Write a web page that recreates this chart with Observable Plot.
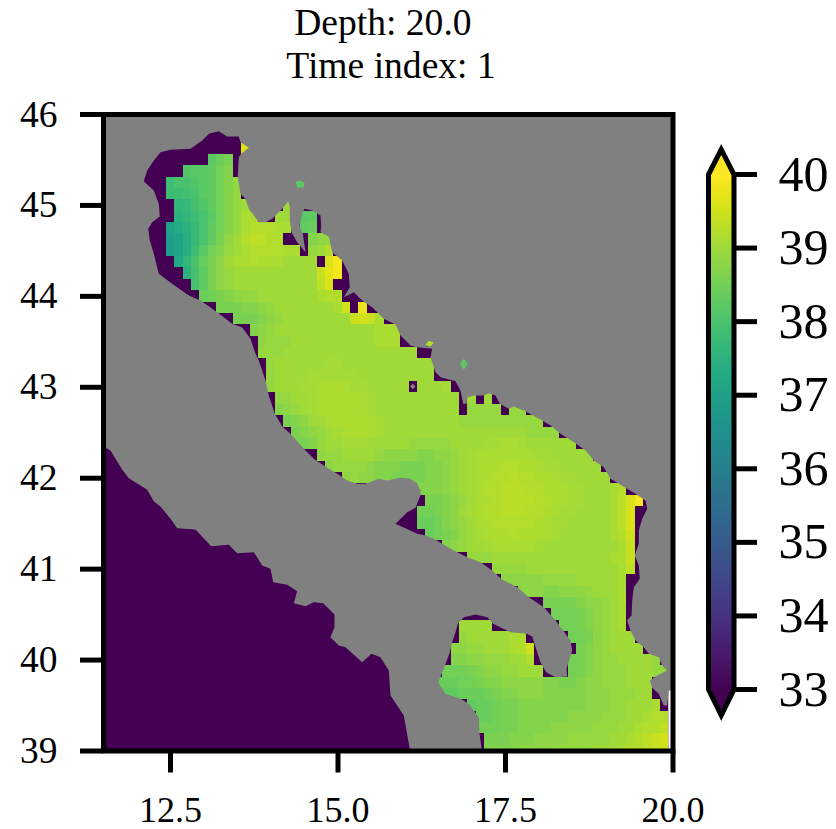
<!DOCTYPE html>
<html>
<head>
<meta charset="utf-8">
<script src="https://cdn.jsdelivr.net/npm/d3@7"></script>
<script src="https://cdn.jsdelivr.net/npm/@observablehq/plot@0.6"></script>
<style>
html,body{margin:0;padding:0;background:#fff;overflow:hidden}
#fig{position:relative;width:836px;height:829px}
#fig svg{position:absolute;left:0;top:0;background:transparent}
</style>
</head>
<body>
<div id="fig"></div>
<script>
const titleLines = ["Depth: 20.0", "Time index: 1"];
const lonTicks = [12.5, 15, 17.5, 20];
const latTicks = [39, 40, 41, 42, 43, 44, 45, 46];
const barTicks = [33, 34, 35, 36, 37, 38, 39, 40];
const valueRange = [33, 40];

// [lat, first lon] of each run of ocean cells (1/8 degree grid)
const runStart = [
[45.625,13.625],[45.5,13.125],[45.375,12.75],[45.25,12.5],[45.125,12.5],
[45,12.625],[45,14.25],
[44.875,12.625],[44.875,14.125],[44.875,14.5],
[44.75,12.5],[44.75,14.5],
[44.625,12.5],[44.625,14.625],
[44.5,12.5],[44.5,14.625],
[44.375,12.625],[44.375,14.875],
[44.25,12.75],[44.125,12.875],[44,13],
[43.875,13.25],[43.875,15.375],
[43.75,13.5],[43.625,13.75],[43.5,13.875],[43.375,13.875],[43.25,14],[43.125,14],
[43,14],[43,16.25],
[42.875,14.125],[42.875,17],[42.875,17.25],
[42.75,14.125],[42.75,17],[42.75,17.625],
[42.625,14.25],[42.5,14.375],[42.375,14.375],[42.25,14.75],[42.125,14.875],[42,15.125],
[41.875,16.25],[41.75,16.375],[41.625,16.25],[41.5,16.25],[41.375,16.375],[41.25,16.625],
[41.125,17],[41,17.375],[40.875,17.5],[40.75,17.75],[40.625,18.125],[40.5,18.25],
[40.375,16.875],[40.375,18.375],
[40.25,16.875],[40.25,18.5],
[40.125,16.75],[40.125,18.625],
[40,16.75],[40,18.5],
[39.875,16.625],[39.875,18.5],
[39.75,16.5],[39.625,16.625],[39.5,17],[39.375,17.125],[39.25,17.125],[39.125,17.25],[39,17.25]
];
const runValues = [
[39.6],
[38.2,38.4,38.6],
[38.1,38.2,38.2,38.3,38.5,38.7],
[37.8,38.0,38.0,38.1,38.2,38.3,38.5,38.7,38.9],
[37.8,37.8,37.9,38.0,38.2,38.3,38.5,38.7,38.9],
[37.6,37.7,37.9,38.1,38.3,38.5,38.7,38.9,39.0],[39.0],
[37.5,37.6,37.8,38.0,38.2,38.5,38.7,38.9,39.1,39.1],[39.0,39.0],[38.2,38.3],
[37.1,37.3,37.5,37.7,38.0,38.3,38.5,38.7,38.9,39.1,39.2,39.2,39.2,39.1,39.1],[38.3,38.4],
[36.9,37.1,37.4,37.7,38.0,38.3,38.6,38.8,39.0,39.2,39.3,39.3,39.2,39.2],[38.7,38.8,38.9],
[36.9,37.1,37.4,37.8,38.2,38.5,38.7,38.9,39.0,39.1,39.2,39.2,39.2,39.2,39.1,39.1],[38.9,39.0,39.2],
[37.2,37.6,38.0,38.4,38.6,38.8,39.0,39.1,39.1,39.2,39.1,39.1,39.1,39.0,39.0,39.0,39.0],[39.6,39.9],
[37.5,37.9,38.3,38.6,38.8,38.9,39.0,39.0,39.0,39.0,39.0,39.0,39.0,39.0,39.0,39.0,39.4,39.7,39.9],
[38.0,38.3,38.6,38.8,38.9,39.0,39.0,39.0,39.0,39.0,39.0,39.0,39.0,39.0,39.0,39.3,39.6],
[38.4,38.5,38.6,38.7,38.8,38.9,38.9,39.0,39.0,39.0,39.0,39.0,39.0,39.0,39.1,39.2,39.2],
[38.6,38.6,38.6,38.7,38.7,38.8,38.9,39.0,39.0,39.0,39.0,39.0,39.0,39.0,39.1,39.5],[39.8],
[38.6,38.6,38.6,38.7,38.8,38.9,39.0,39.0,39.0,39.0,39.0,39.0,39.0,39.0,39.4,39.5,39.4,39.1],
[38.7,38.8,38.9,39.0,39.0,39.0,39.0,39.0,39.0,39.0,39.0,39.0,39.0,39.0,39.0,39.1,39.1,39.1],
[38.8,38.9,38.9,38.9,39.0,39.0,39.0,39.0,39.0,39.0,39.0,39.0,39.0,39.0,39.1,39.1,39.1],
[38.9,38.9,38.9,39.0,39.0,39.0,39.0,39.0,39.0,39.0,39.0,39.0,39.0,39.0,39.0,39.0,39.0,39.0,39.0],
[38.9,39.0,39.0,39.0,39.0,39.0,39.0,39.05,39.05,39.0,39.0,39.0,39.0,39.0,39.0,39.0,39.0,39.0,39.0,39.0],
[38.9,39.0,39.0,39.0,39.0,39.05,39.05,39.05,39.05,39.05,39.05,39.0,39.0,39.0,39.0,39.0,39.0,39.0,39.0,39.0],
[38.9,39.0,39.0,39.0,39.05,39.05,39.1,39.15,39.15,39.1,39.05,39.05,39.0,39.0,39.0,39.0,39.0],[39.0,39.0,39.0,39.05],
[38.9,38.9,39.0,39.0,39.05,39.1,39.15,39.15,39.15,39.15,39.1,39.05,39.0,39.0,39.0,39.0,39.0,39.0,39.0,39.0,39.0,39.0],[39.0],[39.0],
[38.7,38.8,38.9,39.0,39.05,39.1,39.15,39.15,39.15,39.15,39.1,39.05,39.0,39.0,39.0,39.0,39.0,39.0,39.0,39.0,39.0,39.0],[38.9,38.9,38.9,38.9],[38.9,38.9],
[38.6,38.7,38.8,39.0,39.0,39.1,39.15,39.15,39.15,39.15,39.1,39.05,39.0,39.0,39.0,39.0,39.0,39.0,39.0,39.0,39.0,38.9,38.9,38.9,38.9,38.9,38.9,38.9,38.9,38.9,38.9],
[38.6,38.7,38.8,38.9,39.0,39.05,39.1,39.15,39.15,39.1,39.05,39.0,39.0,39.0,39.0,39.0,39.0,39.0,39.0,39.0,39.0,39.0,39.0,39.0,39.0,39.0,39.0,39.0,38.9,38.9,38.9,38.9],
[38.6,38.6,38.7,38.9,39.0,39.0,39.05,39.05,39.05,39.0,39.0,39.0,39.0,39.0,38.9,38.9,38.9,38.9,38.9,39.0,39.0,39.0,39.0,39.05,39.05,39.1,39.1,39.05,39.0,39.0,39.0,39.0,39.0,39.0],
[38.8,38.9,38.9,39.0,39.0,39.0,39.0,38.9,38.8,38.8,38.8,38.8,38.7,38.7,38.8,38.8,38.9,39.0,39.05,39.1,39.1,39.1,39.1,39.1,39.1,39.1,39.05,39.05,39.0,39.0,39.0,39.0,39.0],
[38.8,38.9,38.9,38.9,38.9,38.8,38.7,38.7,38.7,38.6,38.6,38.6,38.7,38.7,38.8,38.9,39.0,39.05,39.1,39.15,39.15,39.2,39.2,39.15,39.15,39.1,39.05,39.05,39.0,39.0,39.0,39.0,39.0],
[38.8,38.9,38.8,38.8,38.7,38.7,38.6,38.6,38.6,38.6,38.7,38.7,38.8,38.9,39.0,39.05,39.1,39.15,39.2,39.2,39.25,39.2,39.2,39.15,39.15,39.1,39.05,39.05,39.0,39.0,39.0,39.0],
[38.7,38.7,38.7,38.8,38.9,39.0,39.05,39.15,39.2,39.2,39.25,39.25,39.25,39.2,39.2,39.15,39.15,39.1,39.05,39.05,39.0,39.0,39.0,39.1,39.2],
[38.6,38.6,38.7,38.8,38.9,39.05,39.1,39.15,39.2,39.25,39.25,39.25,39.25,39.2,39.2,39.15,39.1,39.05,39.05,39.0,39.0,39.0,39.1,39.3,39.6,39.9],
[38.5,38.5,38.6,38.7,38.8,39.0,39.05,39.15,39.2,39.2,39.25,39.25,39.25,39.2,39.2,39.15,39.1,39.05,39.05,39.0,39.0,39.0,39.0,39.1,39.3,39.6],
[38.4,38.4,38.5,38.7,38.8,38.9,39.0,39.1,39.15,39.2,39.2,39.2,39.2,39.2,39.15,39.1,39.05,39.05,39.0,39.0,39.0,39.0,39.0,39.1,39.3,39.6],
[38.4,38.5,38.6,38.7,38.9,39.0,39.05,39.1,39.15,39.15,39.2,39.15,39.15,39.1,39.1,39.05,39.0,39.0,39.0,39.0,39.0,39.0,39.1,39.2,39.5],
[38.7,38.8,38.9,39.0,39.0,39.05,39.1,39.1,39.1,39.1,39.1,39.05,39.0,39.0,39.0,39.0,39.0,39.0,39.0,39.0,39.0,39.1,39.4],
[38.9,38.9,38.9,39.0,39.0,39.0,39.0,39.0,39.0,39.0,39.0,39.0,39.0,39.0,39.0,39.0,39.0,39.1,39.1,39.4],
[38.9,38.9,38.9,38.9,39.0,39.0,39.0,39.0,39.0,39.0,39.0,39.0,39.0,39.0,39.0,39.1,39.3],
[38.8,38.8,38.8,38.8,38.8,38.9,38.9,38.9,38.9,39.0,39.0,39.0,39.0,39.0,39.1],
[38.8,38.8,38.8,38.7,38.7,38.8,38.8,38.8,38.9,39.0,39.0,39.0,39.1],
[38.6,38.6,38.6,38.6,38.7,38.8,38.8,38.9,39.0,39.1],
[38.5,38.5,38.5,38.6,38.7,38.8,38.9,39.0,39.1],
[39.0,39.0,39.0,39.0],[38.5,38.5,38.6,38.7,38.8,38.9,39.0,39.1],
[38.9,39.0,39.0,39.0,39.0,39.0,39.1,39.1],[38.5,38.5,38.6,38.8,38.9,39.0,39.0,39.0],
[38.8,38.8,38.9,38.9,39.0,39.0,39.0,39.1,39.2,39.5],[38.6,38.7,38.8,38.9,39.0,39.0,39.0,39.0],
[38.7,38.7,38.8,38.8,38.9,38.9,38.9,39.0,39.0,39.2],[38.5,38.6,38.7,38.8,38.9,38.9,39.0,39.0,39.0,39.0,38.9],
[38.5,38.5,38.5,38.6,38.7,38.8,38.8,38.9,38.9,39.0,39.0,39.0],[38.5,38.6,38.7,38.8,38.9,38.9,38.9,39.0,39.0,39.0,38.9,38.9],
[38.4,38.4,38.4,38.5,38.5,38.6,38.7,38.7,38.8,38.8,38.8,38.8,38.8,38.7,38.7,38.6,38.6,38.7,38.8,38.8,38.9,38.9,38.9,39.0,39.0,39.0],
[38.3,38.3,38.4,38.4,38.4,38.5,38.6,38.7,38.7,38.8,38.8,38.8,38.7,38.7,38.7,38.7,38.7,38.8,38.8,38.8,38.9,38.9,38.9,39.0,39.0],
[38.3,38.4,38.4,38.5,38.6,38.6,38.7,38.7,38.7,38.7,38.7,38.7,38.7,38.7,38.8,38.8,38.8,38.9,38.9,39.0,39.0,39.0,39.1],
[38.4,38.4,38.5,38.6,38.6,38.7,38.7,38.7,38.7,38.7,38.7,38.8,38.8,38.8,38.8,38.9,38.9,38.9,39.0,39.0,39.1,39.2,39.2],
[38.5,38.5,38.5,38.6,38.6,38.7,38.7,38.7,38.7,38.8,38.8,38.8,38.8,38.8,38.9,38.9,38.9,39.0,39.0,39.1,39.2,39.2,39.3],
[38.6,38.6,38.6,38.7,38.7,38.7,38.8,38.8,38.8,38.8,38.9,38.9,38.9,38.9,38.9,39.0,39.0,39.1,39.2,39.3,39.4,39.5],
[38.7,38.7,38.7,38.7,38.8,38.8,38.8,38.8,38.9,38.9,38.9,38.9,38.9,39.0,39.0,39.0,39.1,39.2,39.2,39.3,39.4,39.5]
];

// land outline [lon, lat]
const coast = [
[11.5,42.35],[11.53,42.335],[11.604,42.305],[11.68,42.214],[11.78,42.093],[11.878,42.0],[12.152,41.873],[12.25,41.747],[12.35,41.689],[12.5,41.554],[12.6,41.45],[12.873,41.436],[13.107,41.252],[13.37,41.268],[13.495,41.175],[13.743,41.186],[13.869,41.04],[13.993,41.004],[14.033,40.857],[14.242,40.828],[14.39,40.757],[14.34,40.626],[14.515,40.593],[14.639,40.637],[14.779,40.626],[14.948,40.501],[14.948,40.362],[14.888,40.252],[15.012,40.16],[15.112,40.142],[15.361,39.977],[15.5,40.069],[15.634,40.032],[15.758,39.885],[15.784,39.61],[15.982,39.39],[16.07,39.03],[16.09,38.9],
[17.142,38.9],[17.142,39.03],[17.112,39.189],[17.101,39.372],[16.952,39.519],[16.828,39.574],[16.604,39.629],[16.496,39.757],[16.579,39.904],[16.669,40.087],[16.704,40.197],[16.754,40.307],[16.788,40.399],[16.878,40.472],[17.052,40.501],[17.227,40.472],[17.316,40.399],[17.575,40.307],[17.813,40.289],[17.899,40.259],[17.933,40.179],[18.022,39.977],[18.107,39.867],[18.246,39.812],[18.421,39.819],[18.41,39.904],[18.496,40.105],[18.47,40.215],[18.246,40.435],[18.072,40.582],[17.848,40.692],[17.675,40.802],[17.451,40.883],[17.301,40.985],[17.127,41.076],[16.928,41.132],[16.728,41.205],[16.43,41.334],[16.306,41.37],[16.182,41.389],[15.858,41.499],[16.033,41.626],[16.157,41.675],[16.231,41.81],[16.231,41.865],[16.182,41.939],[16.082,41.994],[15.933,42.005],[15.734,41.975],[15.609,41.994],[15.41,41.939],[15.287,41.939],[15.137,41.975],[14.988,42.049],[14.788,42.14],[14.639,42.214],[14.49,42.324],[14.316,42.47],[14.167,42.569],[14.057,42.708],[13.967,42.91],[13.918,43.075],[13.818,43.295],[13.769,43.368],[13.694,43.533],[13.57,43.658],[13.421,43.698],[13.197,43.826],[12.948,43.954],[12.773,44.009],[12.525,44.138],[12.325,44.248],[12.251,44.468],[12.191,44.614],[12.167,44.743],[12.227,44.816],[12.34,44.878],[12.325,45.018],[12.251,45.164],[12.101,45.266],[12.152,45.384],[12.251,45.494],[12.351,45.585],[12.5,45.612],[12.799,45.623],[12.973,45.714],[13.072,45.788],[13.221,45.816],[13.346,45.758],[13.519,45.758],[13.545,45.695],[13.669,45.634],[13.555,45.568],[13.519,45.53],[13.504,45.31],[13.545,45.128],[13.619,45.073],[13.669,44.963],[13.818,44.816],[13.918,44.816],[14.018,44.853],[14.167,44.963],[14.257,45.047],[14.281,44.981],[14.281,44.834],[14.306,44.706],[14.391,44.596],[14.515,44.486],[14.475,44.688],[14.425,44.779],[14.466,44.908],[14.5,44.963],[14.615,44.944],[14.739,44.889],[14.749,44.779],[14.739,44.706],[14.863,44.658],[14.913,44.486],[15.063,44.394],[15.161,44.248],[15.176,44.101],[15.087,43.991],[15.236,44.046],[15.361,43.954],[15.51,43.881],[15.684,43.753],[15.858,43.691],[15.933,43.57],[16.082,43.46],[16.182,43.441],[16.406,43.423],[16.381,43.331],[16.455,43.166],[16.53,43.111],[16.754,43.067],[16.828,42.965],[16.869,42.818],[16.918,42.818],[16.928,42.888],[17.027,42.91],[17.176,42.91],[17.251,42.935],[17.351,42.91],[17.415,42.818],[17.549,42.763],[17.624,42.789],[17.799,42.737],[18.048,42.635],[18.172,42.58],[18.321,42.488],[18.545,42.385],[18.694,42.305],[18.818,42.195],[18.967,42.121],[19.067,41.994],[19.316,41.884],[19.44,41.829],[19.59,41.755],[19.615,41.664],[19.54,41.554],[19.49,41.425],[19.49,41.279],[19.43,41.15],[19.49,41.04],[19.504,40.894],[19.415,40.802],[19.391,40.655],[19.381,40.49],[19.316,40.435],[19.366,40.325],[19.44,40.215],[19.564,40.142],[19.639,40.069],[19.788,40.032],[19.839,39.94],[19.913,39.885],[19.764,39.83],[19.654,39.775],[19.69,39.695],[19.788,39.629],[19.863,39.5],[19.913,39.5],[19.937,39.665],
[20.05,39.665],[20.05,46.05],[11.45,46.05],[11.45,42.35]
];
const islet = [[16.076,43.009],[16.116,43.04],[16.156,43.009],[16.116,42.978]];

// small inland waters over the land
const inlandNorth = [[14.366,45.255],[14.415,45.274],[14.5,45.252],[14.49,45.2],[14.391,45.194]];
const inlandSplit = [[16.306,43.467],[16.355,43.511],[16.43,43.493],[16.381,43.449]];
const inlandHvar = [[16.818,43.258],[16.878,43.313],[16.937,43.258],[16.878,43.192]];
const inlandValues = [38.2, 39.2, 38.2];

const seaExtent = {lon1: 11.4375, lon2: 19.9375, lat1: 38.9375, lat2: 46.0625, value: 33};

const barTop = 40.34;
const barBottom = 32.65;
const barOutline = [[0,40],[0.5,barTop],[1,40],[1,33],[0.5,barBottom],[0,33],[0,40]];
const barTopCap = [[0,39.98],[0,40],[0.5,barTop],[1,40],[1,39.98]];
const barBottomCap = [[0,33.02],[0,33],[0.5,barBottom],[1,33],[1,33.02]];

const half = 1 / 16;
const cells = runStart.flatMap(([lat, lon], r) =>
  runValues[r].map((v, k) => ({lat, lon: lon + k / 8, v})));

const colorScale = {type: "linear", scheme: "viridis", domain: valueRange};
const serif = '"Liberation Serif","Times New Roman",serif';
const lw = 5;

const inlandMarks = [inlandNorth, inlandSplit, inlandHvar].map((shape, i) =>
  Plot.line(shape, {x: d => d[0], y: d => d[1], fill: () => inlandValues[i], stroke: null, clip: true}));

const map = Plot.plot({
  width: 836, height: 829,
  marginLeft: 103, marginRight: 163.5, marginTop: 114, marginBottom: 78.5,
  style: {fontFamily: serif, background: "transparent", color: "#000"},
  x: {domain: [11.5, 20]},
  y: {domain: [39, 46]},
  color: colorScale,
  marks: [
    Plot.rect([seaExtent], {x1: "lon1", x2: "lon2", y1: "lat1", y2: "lat2", fill: "value", clip: true}),
    Plot.rect(cells, {
      x1: d => d.lon - half, x2: d => d.lon + half,
      y1: d => d.lat - half, y2: d => d.lat + half,
      fill: "v", clip: true, shapeRendering: "crispEdges"
    }),
    Plot.line(coast, {x: d => d[0], y: d => d[1], fill: "#808080", stroke: null, clip: true}),
    Plot.line(islet, {x: d => d[0], y: d => d[1], fill: "#808080", stroke: null, clip: true}),
    ...inlandMarks,
    Plot.frame({stroke: "#000", strokeWidth: lw}),
    Plot.axisX({ticks: lonTicks, tickFormat: d => d.toFixed(1), tickSize: 22, tickPadding: 23, strokeWidth: lw, fontSize: 36, label: null}),
    Plot.axisY({ticks: latTicks, tickFormat: d => String(d), tickSize: 23, tickPadding: 23, strokeWidth: lw, fontSize: 37.5, label: null}),
    Plot.text([titleLines[0]], {text: d => d, frameAnchor: "top", lineAnchor: "bottom", dy: -80, dx: -5.4, fontSize: 37.6}),
    Plot.text([titleLines[1]], {text: d => d, frameAnchor: "top", lineAnchor: "bottom", dy: -37, dx: 2.75, fontSize: 37.6})
  ]
});

const barSteps = d3.range(256).map(i => 33 + i * 7 / 256);
const colorbar = Plot.plot({
  width: 836, height: 829,
  marginLeft: 708, marginRight: 102.5, marginTop: 174, marginBottom: 140,
  style: {fontFamily: serif, background: "transparent", color: "#000"},
  x: {domain: [0, 1], axis: null},
  y: {domain: valueRange},
  color: colorScale,
  marks: [
    Plot.rect(barSteps, {x1: 0, x2: 1, y1: d => d, y2: d => d + 7 / 256, fill: d => d + 3.5 / 256, shapeRendering: "crispEdges"}),
    Plot.line(barTopCap, {x: d => d[0], y: d => d[1], fill: () => 40, stroke: null}),
    Plot.line(barBottomCap, {x: d => d[0], y: d => d[1], fill: () => 33, stroke: null}),
    Plot.line(barOutline, {x: d => d[0], y: d => d[1], stroke: "#000", strokeWidth: lw, strokeLinejoin: "miter", strokeMiterlimit: 10}),
    Plot.axisY({anchor: "right", ticks: barTicks, tickFormat: d => String(d), tickSize: 22.5, tickPadding: 22, strokeWidth: lw, fontSize: 50, label: null})
  ]
});

const fig = document.getElementById("fig");
fig.appendChild(map);
fig.appendChild(colorbar);
</script>
</body>
</html>
